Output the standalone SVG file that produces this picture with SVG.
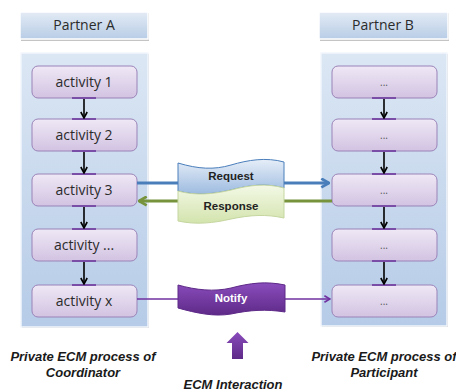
<svg xmlns="http://www.w3.org/2000/svg" width="456" height="392" viewBox="0 0 456 392">
<defs>
  <linearGradient id="gHead" x1="0" y1="0" x2="0" y2="1">
    <stop offset="0" stop-color="#e3ebf5"/>
    <stop offset="1" stop-color="#b8cde6"/>
  </linearGradient>
  <linearGradient id="gLane" x1="0" y1="0" x2="0" y2="1">
    <stop offset="0" stop-color="#dce7f4"/>
    <stop offset="1" stop-color="#b5cbe7"/>
  </linearGradient>
  <linearGradient id="gAct" x1="0" y1="0" x2="0" y2="1">
    <stop offset="0" stop-color="#efe8f5"/>
    <stop offset="1" stop-color="#d2c3e2"/>
  </linearGradient>
  <linearGradient id="gReq" x1="0" y1="0" x2="0" y2="1">
    <stop offset="0" stop-color="#e6eef8"/>
    <stop offset="1" stop-color="#9dbbe0"/>
  </linearGradient>
  <linearGradient id="gResp" x1="0" y1="0" x2="0" y2="1">
    <stop offset="0" stop-color="#f3f8e6"/>
    <stop offset="1" stop-color="#d3e4ad"/>
  </linearGradient>
  <linearGradient id="gNot" x1="0" y1="0" x2="0" y2="1">
    <stop offset="0" stop-color="#8a4cbc"/>
    <stop offset="1" stop-color="#5e2a88"/>
  </linearGradient>
  <marker id="mBlack" viewBox="0 0 10 10" refX="9" refY="5" markerWidth="8" markerHeight="8" orient="auto" markerUnits="userSpaceOnUse">
    <path d="M1.5,1 L9,5 L1.5,9" fill="none" stroke="#000" stroke-width="2"/>
  </marker>
  <marker id="mBlue" viewBox="0 0 10 10" refX="9" refY="5" markerWidth="11" markerHeight="11" orient="auto" markerUnits="userSpaceOnUse">
    <path d="M2,1 L9,5 L2,9" fill="none" stroke="#4a7ebb" stroke-width="2.5"/>
  </marker>
  <marker id="mGreen" viewBox="0 0 10 10" refX="9" refY="5" markerWidth="11" markerHeight="11" orient="auto" markerUnits="userSpaceOnUse">
    <path d="M2,1 L9,5 L2,9" fill="none" stroke="#77933c" stroke-width="2.5"/>
  </marker>
  <marker id="mPurple" viewBox="0 0 10 10" refX="9" refY="5" markerWidth="8" markerHeight="8" orient="auto" markerUnits="userSpaceOnUse">
    <path d="M2,1 L9,5 L2,9" fill="none" stroke="#7030a0" stroke-width="2"/>
  </marker>
</defs>
<style>
  .head { fill: url(#gHead); stroke: #ffffff; stroke-width: 1.5; }
  .headsh { fill: #c4c4c4; }
  .lane { fill: url(#gLane); stroke: #f2f6fb; stroke-width: 1.5; }
  .act { fill: url(#gAct); stroke: #9a83b8; stroke-width: 1; }
  .tick { stroke: #7a4ea6; stroke-width: 2; }
  .flow { stroke: #000; stroke-width: 1.6; fill: none; }
  .t { font-family: "Open Sans", "Liberation Sans", sans-serif; fill: #2b2b2b; text-anchor: middle; }
  .ht { font-size: 14px; }
  .at { font-size: 14px; }
  .dt { font-size: 10px; fill: #555; }
  .lbl { font-family: "Liberation Sans", Arial, sans-serif; font-weight: bold; font-size: 11.5px; text-anchor: middle; fill: #222; }
  .cap { font-family: "Liberation Sans", Arial, sans-serif; font-weight: bold; font-style: italic; font-size: 13px; text-anchor: middle; fill: #1a1a1a; }
</style>

<g id="partnerA-header">
  <rect class="headsh" x="21" y="13" width="128" height="28"/>
  <rect class="head" x="20" y="12" width="128" height="27"/>
  <text class="t ht" x="84" y="30">Partner A</text>
</g>
<g id="partnerB-header">
  <rect class="headsh" x="320" y="13" width="129" height="28"/>
  <rect class="head" x="319" y="12" width="129" height="27"/>
  <text class="t ht" x="383" y="30">Partner B</text>
</g>

<g id="laneA">
  <rect x="22" y="54" width="127" height="274" fill="#c9c9c9"/>
  <rect class="lane" x="21" y="53" width="127" height="274"/>
</g>
<g id="laneB">
  <rect x="322" y="54" width="126" height="273" fill="#c9c9c9"/>
  <rect class="lane" x="321" y="53" width="126" height="273"/>
</g>

<g id="a1"><rect class="act" x="32" y="66" width="105" height="32" rx="6"/><text class="t at" x="84" y="87">activity 1</text></g>
<g id="a2"><rect class="act" x="32" y="119" width="105" height="32" rx="6"/><text class="t at" x="84" y="140">activity 2</text></g>
<g id="a3"><rect class="act" x="32" y="174" width="105" height="32" rx="6"/><text class="t at" x="84" y="195">activity 3</text></g>
<g id="a4"><rect class="act" x="32" y="229" width="105" height="32" rx="6"/><text class="t at" x="84" y="250">activity ...</text></g>
<g id="a5"><rect class="act" x="32" y="285" width="105" height="32" rx="6"/><text class="t at" x="84" y="306">activity x</text></g>

<g id="b1"><rect class="act" x="332" y="66" width="105" height="32" rx="6"/><text class="t dt" x="384" y="86">...</text></g>
<g id="b2"><rect class="act" x="332" y="119" width="105" height="32" rx="6"/><text class="t dt" x="384" y="139">...</text></g>
<g id="b3"><rect class="act" x="332" y="174" width="105" height="32" rx="6"/><text class="t dt" x="384" y="194">...</text></g>
<g id="b4"><rect class="act" x="332" y="229" width="105" height="32" rx="6"/><text class="t dt" x="384" y="249">...</text></g>
<g id="b5"><rect class="act" x="332" y="285" width="105" height="32" rx="6"/><text class="t dt" x="384" y="305">...</text></g>

<g id="connectors">
  <g id="ticks">
    <line class="tick" x1="72" y1="98" x2="96" y2="98"/><line class="tick" x1="72" y1="119" x2="96" y2="119"/>
    <line class="tick" x1="72" y1="151" x2="96" y2="151"/><line class="tick" x1="72" y1="174" x2="96" y2="174"/>
    <line class="tick" x1="72" y1="206" x2="96" y2="206"/><line class="tick" x1="72" y1="229" x2="96" y2="229"/>
    <line class="tick" x1="72" y1="261" x2="96" y2="261"/><line class="tick" x1="72" y1="285" x2="96" y2="285"/>
    <line class="tick" x1="372" y1="98" x2="396" y2="98"/><line class="tick" x1="372" y1="119" x2="396" y2="119"/>
    <line class="tick" x1="372" y1="151" x2="396" y2="151"/><line class="tick" x1="372" y1="174" x2="396" y2="174"/>
    <line class="tick" x1="372" y1="206" x2="396" y2="206"/><line class="tick" x1="372" y1="229" x2="396" y2="229"/>
    <line class="tick" x1="372" y1="261" x2="396" y2="261"/><line class="tick" x1="372" y1="285" x2="396" y2="285"/>
  </g>
  <line class="flow" x1="84" y1="99" x2="84" y2="118" marker-end="url(#mBlack)"/>
  <line class="flow" x1="84" y1="152" x2="84" y2="173" marker-end="url(#mBlack)"/>
  <line class="flow" x1="84" y1="207" x2="84" y2="228" marker-end="url(#mBlack)"/>
  <line class="flow" x1="84" y1="262" x2="84" y2="284" marker-end="url(#mBlack)"/>
  <line class="flow" x1="384" y1="99" x2="384" y2="118" marker-end="url(#mBlack)"/>
  <line class="flow" x1="384" y1="152" x2="384" y2="173" marker-end="url(#mBlack)"/>
  <line class="flow" x1="384" y1="207" x2="384" y2="228" marker-end="url(#mBlack)"/>
  <line class="flow" x1="384" y1="262" x2="384" y2="284" marker-end="url(#mBlack)"/>
  <line x1="137" y1="183" x2="329" y2="183" stroke="#4a7ebb" stroke-width="3" marker-end="url(#mBlue)"/>
  <line x1="332" y1="201" x2="139" y2="201" stroke="#77933c" stroke-width="3" marker-end="url(#mGreen)"/>
  <line x1="137" y1="299" x2="330" y2="299" stroke="#7030a0" stroke-width="1.5" marker-end="url(#mPurple)"/>
</g>

<g id="request">
  <path d="M178,163 C198,169 214,170 231,165 C248,160 266,157 284,162 L284,188 C266,183 250,185 231,190 C214,194 196,196 178,191 Z" fill="url(#gReq)" stroke="#4a7ebb" stroke-width="1"/>
  <text class="lbl" x="231" y="180">Request</text>
</g>
<g id="response">
  <path d="M178,191 C196,196 214,194 231,190 C250,185 266,183 284,188 L284,218 C266,214 250,215 231,219 C214,223 196,225 178,221 Z" fill="url(#gResp)" stroke="#c5d6a0" stroke-width="1"/>
  <text class="lbl" x="231" y="210">Response</text>
</g>
<g id="notify">
  <path d="M178,285 C196,290 214,292 231,288 C250,283 266,281 285,285 L285,312 C266,309 250,310 231,314 C214,317 196,313 178,308 Z" fill="url(#gNot)" stroke="#5e2a88" stroke-width="1"/>
  <text class="lbl" x="231" y="302" style="fill:#ffffff">Notify</text>
</g>

<g id="ecm-arrow">
  <path d="M237.5,332 L248.5,343 L243,343 L243,359 L232,359 L232,343 L226.5,343 Z" fill="url(#gNot)"/>
</g>

<g id="captions">
  <text class="cap" x="83" y="361">Private ECM process of</text>
  <text class="cap" x="83" y="377">Coordinator</text>
  <text class="cap" x="384" y="361">Private ECM process of</text>
  <text class="cap" x="384" y="377">Participant</text>
  <text class="cap" x="233" y="389">ECM Interaction</text>
</g>
</svg>
